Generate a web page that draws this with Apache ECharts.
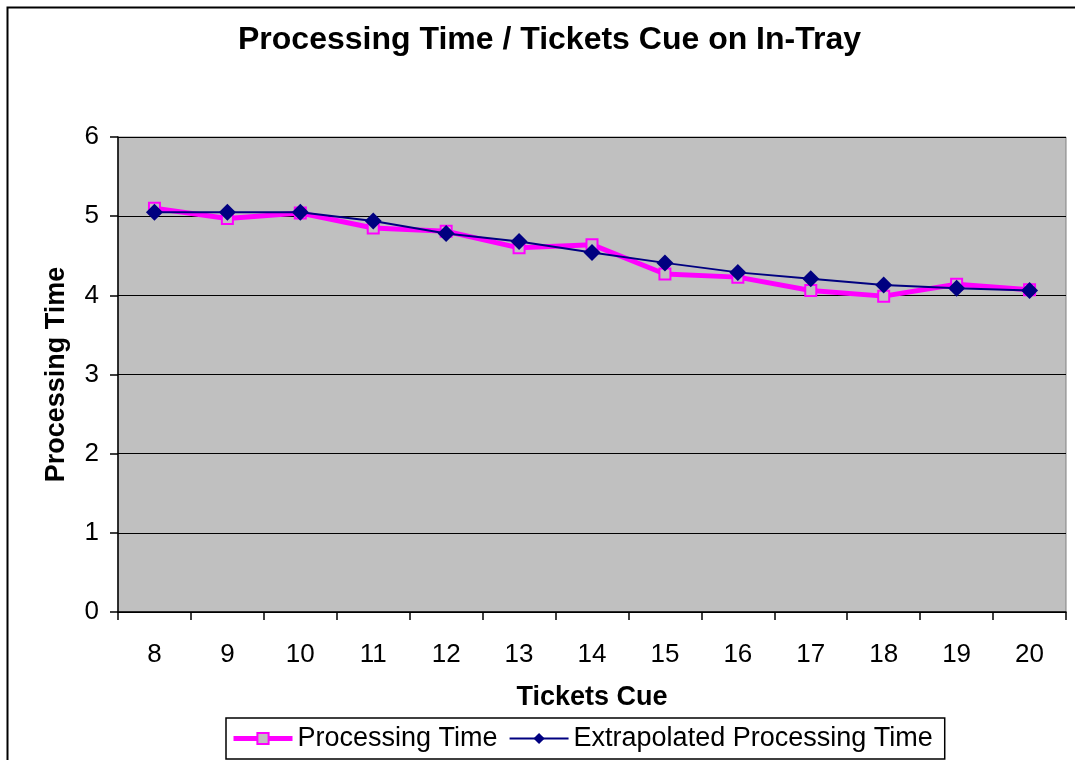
<!DOCTYPE html>
<html>
<head>
<meta charset="utf-8">
<script src="https://cdn.jsdelivr.net/npm/echarts@6/dist/echarts.min.js"></script>
<style>html,body{margin:0;padding:0;background:#fff;}#c{width:1075px;height:760px;}</style>
</head>
<body>
<div id="c"></div>
<script>
var categories = ['8','9','10','11','12','13','14','15','16','17','18','19','20'];
var processingTime = [5.10, 4.97, 5.04, 4.85, 4.81, 4.60, 4.64, 4.27, 4.23, 4.06, 3.99, 4.14, 4.07];
var extrapolatedTime = [5.05, 5.05, 5.05, 4.94, 4.78, 4.68, 4.54, 4.41, 4.29, 4.21, 4.13, 4.09, 4.06];

var FONT = 'Liberation Sans, Arial, sans-serif';
var chart = echarts.init(document.getElementById('c'), null, {renderer: 'canvas'});
chart.setOption({
  animation: false,
  backgroundColor: '#ffffff',
  title: {
    text: 'Processing Time / Tickets Cue on In-Tray',
    left: 233, top: 19,
    textStyle: {fontFamily: FONT, fontSize: 32, fontWeight: 'bold', color: '#000'}
  },
  graphic: [{
    type: 'rect', left: 5, top: 5, z: -1,
    shape: {width: 1100, height: 800},
    style: {fill: 'none', stroke: '#000', lineWidth: 2}
  }],
  legend: {
    left: 226, top: 718,
    padding: [7, 12, 7, 5],
    borderColor: '#000', borderWidth: 1.5, backgroundColor: '#fff',
    itemWidth: 59, itemHeight: 14, itemGap: 11,
    textStyle: {fontFamily: FONT, fontSize: 27, color: '#000'},
    data: [
      {name: 'Processing Time', lineStyle: {width: 5, color: '#FF00FF'}},
      {name: 'Extrapolated Processing Time', lineStyle: {width: 2, color: '#000080'}}
    ]
  },
  grid: {
    left: 118, top: 137, right: 9, bottom: 148,
    show: true, backgroundColor: '#C0C0C0', borderColor: '#808080', borderWidth: 1
  },
  xAxis: {
    type: 'category', data: categories, boundaryGap: true,
    name: 'Tickets Cue', nameLocation: 'middle', nameGap: 72,
    nameTextStyle: {fontFamily: FONT, fontSize: 27, fontWeight: 'bold', color: '#000'},
    axisLine: {lineStyle: {color: '#000', width: 1.5}},
    axisTick: {show: true, length: 8, lineStyle: {color: '#000', width: 1.5}},
    axisLabel: {margin: 30, fontFamily: FONT, fontSize: 26, color: '#000'},
    splitLine: {show: false}
  },
  yAxis: {
    type: 'value', min: 0, max: 6, interval: 1,
    name: 'Processing Time', nameLocation: 'middle', nameGap: 48, nameRotate: 90,
    nameTextStyle: {fontFamily: FONT, fontSize: 27, fontWeight: 'bold', color: '#000'},
    axisLine: {show: true, lineStyle: {color: '#000', width: 1.5}},
    axisTick: {show: true, length: 8, lineStyle: {color: '#000', width: 1.5}},
    axisLabel: {margin: 19, fontFamily: FONT, fontSize: 26, color: '#000'},
    splitLine: {show: true, lineStyle: {color: '#000', width: 1.2}}
  },
  series: [
    {
      name: 'Processing Time', type: 'line', data: processingTime,
      symbol: 'rect', symbolSize: 11,
      lineStyle: {color: '#FF00FF', width: 5},
      itemStyle: {color: '#C0C0C0', borderColor: '#FF00FF', borderWidth: 2},
      z: 2
    },
    {
      name: 'Extrapolated Processing Time', type: 'line', data: extrapolatedTime,
      symbol: 'diamond', symbolSize: 17,
      lineStyle: {color: '#000080', width: 2},
      itemStyle: {color: '#000080'},
      z: 3
    }
  ]
});
</script>
</body>
</html>
